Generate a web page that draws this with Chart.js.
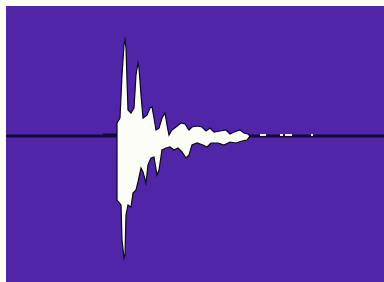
<!DOCTYPE html>
<html>
<head>
<meta charset="utf-8">
<script src="https://cdn.jsdelivr.net/npm/chart.js@4"></script>
<style>
  body { margin: 0; background: #fff; }
  #wrap { width: 384px; height: 282px; }
</style>
</head>
<body>
<div id="wrap"><canvas id="wave" width="384" height="282"></canvas></div>
<script>
// time (samples) and amplitude of the waveform envelope
var upperTime = [111, 111, 114, 116, 118, 119, 120, 121, 122, 125, 128, 130, 132, 133, 135, 137, 141, 144, 146, 148, 150, 153, 156, 159, 161, 163, 166, 170, 175, 179, 183, 186, 191, 196, 200, 204, 208, 214, 220, 224, 228, 234, 238, 242, 244];
var upperAmp  = [0,   13,  18,  61,  91,  96,  88,  56,  26,  23,  28,  61,  73,  68,  41,  18,  21,  28,  29,  18,  6,   8,   18,  23,  11,  1,   6,   9,   13,  12,  6,   9,   10,  9,   5,   8,   4,   5,   6,   2,   4,   6,   3,   2,   0];

var lowerTime = [111, 111, 115, 116, 118, 119, 120, 122, 125, 127, 130, 132, 135, 137, 140, 142, 145, 148, 151, 153, 156, 160, 164, 168, 172, 176, 180, 183, 186, 191, 197, 201, 205, 212, 218, 224, 230, 236, 241, 244];
var lowerAmp  = [0,   -64, -69, -104, -122, -119, -79, -69, -71, -57, -54, -46, -32, -36, -47, -29, -22, -21, -39, -34, -14, -12, -11, -14, -12, -16, -22, -19, -9, -7, -9, -11, -7, -7, -9, -6, -7, -5, -4, 0];

// faint pre-trigger hum just before the hit
var preTime = [97, 111];
var preAmp  = [2.5, 2.5];

// small specks that trail off after the ring-down
var tailTime = [254, 260, 262, 266, 274, 277, 279, 286, 305, 307];
var tailAmp  = [2, 0, 0, 0, 2, 0, 2, 0, 2, 0];

var baseTime = [0, 378];
var baseAmp  = [0, 0];

function pts(t, a) {
    return t.map(function(x, i) { return { x: x, y: a[i] }; });
}

var panelBg = {
    id: 'panelBg',
    beforeDraw: function(chart) {
        var c = chart.ctx, a = chart.chartArea;
        c.save();
        c.fillStyle = '#5125a8';
        c.fillRect(a.left, a.top, a.right - a.left, a.bottom - a.top);
        c.restore();
    }
};

var wave = {
    borderColor: '#0a0620',
    borderWidth: 1.2,
    backgroundColor: '#fdfdf8',
    fill: 'origin',
    tension: 0,
    pointRadius: 0
};

new Chart(document.getElementById('wave'), {
    type: 'line',
    data: {
        datasets: [
            Object.assign({ label: 'upper', data: pts(upperTime, upperAmp) }, wave),
            Object.assign({ label: 'lower', data: pts(lowerTime, lowerAmp) }, wave),
            { label: 'tail', data: pts(tailTime, tailAmp), stepped: true, fill: 'origin',
              backgroundColor: '#f4f2f0', borderWidth: 0, pointRadius: 0 },
            { label: 'pre', data: pts(preTime, preAmp), fill: 'origin',
              backgroundColor: '#130a3c', borderWidth: 0, pointRadius: 0 },
            { label: 'baseline', data: pts(baseTime, baseAmp), borderColor: '#130a3c',
              borderWidth: 3, pointRadius: 0, fill: false }
        ]
    },
    options: {
        responsive: false,
        animation: false,
        layout: { padding: { left: 6, top: 6, right: 0, bottom: 0 } },
        plugins: { legend: { display: false }, tooltip: { enabled: false } },
        scales: {
            x: { type: 'linear', min: 0, max: 378, display: false },
            y: { min: -146, max: 130, display: false }
        }
    },
    plugins: [panelBg]
});
</script>
</body>
</html>
